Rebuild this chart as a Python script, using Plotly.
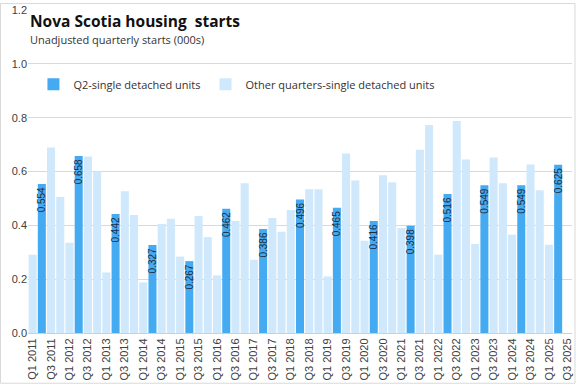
import plotly.graph_objects as go

years = list(range(2011, 2026))
quarters = [f"Q{q} {y}" for y in years for q in range(1, 5)][:59]

starts = [
    0.291, 0.554, 0.689, 0.505,
    0.335, 0.658, 0.656, 0.600,
    0.225, 0.442, 0.527, 0.438,
    0.188, 0.327, 0.405, 0.424,
    0.284, 0.267, 0.435, 0.357,
    0.214, 0.462, 0.416, 0.556,
    0.272, 0.386, 0.427, 0.376,
    0.457, 0.496, 0.534, 0.534,
    0.210, 0.465, 0.667, 0.567,
    0.343, 0.416, 0.586, 0.560,
    0.390, 0.398, 0.681, 0.773,
    0.291, 0.516, 0.788, 0.645,
    0.331, 0.549, 0.652, 0.556,
    0.365, 0.549, 0.626, 0.530,
    0.328, 0.625, None,
]

q2_vals = [v if q.startswith("Q2") else None for q, v in zip(quarters, starts)]
other_vals = [v if not q.startswith("Q2") else None for q, v in zip(quarters, starts)]
q2_text = [f"{v:.3f}" if v is not None else "" for v in q2_vals]
tick_vals = [q for q in quarters if q.startswith("Q1") or q.startswith("Q3")]

fig = go.Figure()
fig.add_trace(go.Bar(
    x=quarters, y=q2_vals, name="Q2-single detached units",
    marker=dict(color="#44AAF2", line=dict(width=0)),
    text=q2_text, textposition="inside", insidetextanchor="end",
    textangle=-90, textfont=dict(family="Liberation Sans", size=10, color="#1F2D3D"),
    cliponaxis=False,
))
fig.add_trace(go.Bar(
    x=quarters, y=other_vals, name="Other quarters-single detached units",
    marker=dict(color="#CFE8FB", line=dict(width=0)),
))

fig.update_layout(
    width=577, height=385,
    margin=dict(l=28, r=4, t=7, b=52),
    paper_bgcolor="white", plot_bgcolor="white",
    barmode="overlay", bargap=0.13,
    uniformtext=dict(minsize=10, mode="show"),
    showlegend=True,
    legend=dict(orientation="h", x=0.01, y=0.77, xanchor="left", yanchor="middle",
                font=dict(family="Open Sans", size=11, color="#333333"),
                bgcolor="rgba(0,0,0,0)", itemwidth=30, traceorder="normal"),
    font=dict(family="Liberation Sans", color="#404040"),
    xaxis=dict(
        type="category", categoryorder="array", categoryarray=quarters,
        tickmode="array", tickvals=tick_vals, ticktext=tick_vals,
        tickangle=-90, tickfont=dict(family="Liberation Sans", size=11, color="#404040"),
        showline=True, linecolor="#D0D0D0", linewidth=1,
        ticks="", showgrid=False,
    ),
    yaxis=dict(
        range=[0, 1.2], dtick=0.2, tickformat=".1f",
        showgrid=True, gridcolor="#D9D9D9", gridwidth=1,
        zeroline=False, showline=False, ticks="",
        tickfont=dict(family="Liberation Sans", size=11, color="#404040"),
    ),
    annotations=[
        dict(text="<b>Nova Scotia housing  starts</b>", xref="paper", yref="paper",
             x=0.0, y=0.966, xanchor="left", yanchor="middle", showarrow=False,
             font=dict(family="Open Sans", size=15.5, color="#111111"), xshift=0),
        dict(text="Unadjusted quarterly starts (000s)", xref="paper", yref="paper",
             x=0.0, y=0.908, xanchor="left", yanchor="middle", showarrow=False,
             font=dict(family="Open Sans", size=11, color="#333333"), xshift=0),
    ],
    shapes=[
        dict(type="rect", xref="paper", yref="paper",
             x0=-0.0505, x1=1.0055, y0=-0.1555, y1=1.0200,
             line=dict(color="#D9D9D9", width=1), fillcolor="rgba(0,0,0,0)", layer="below"),
    ],
)

fig.write_html("out.html", config={"displayModeBar": False},
               post_script="document.body.style.margin='0px';")
